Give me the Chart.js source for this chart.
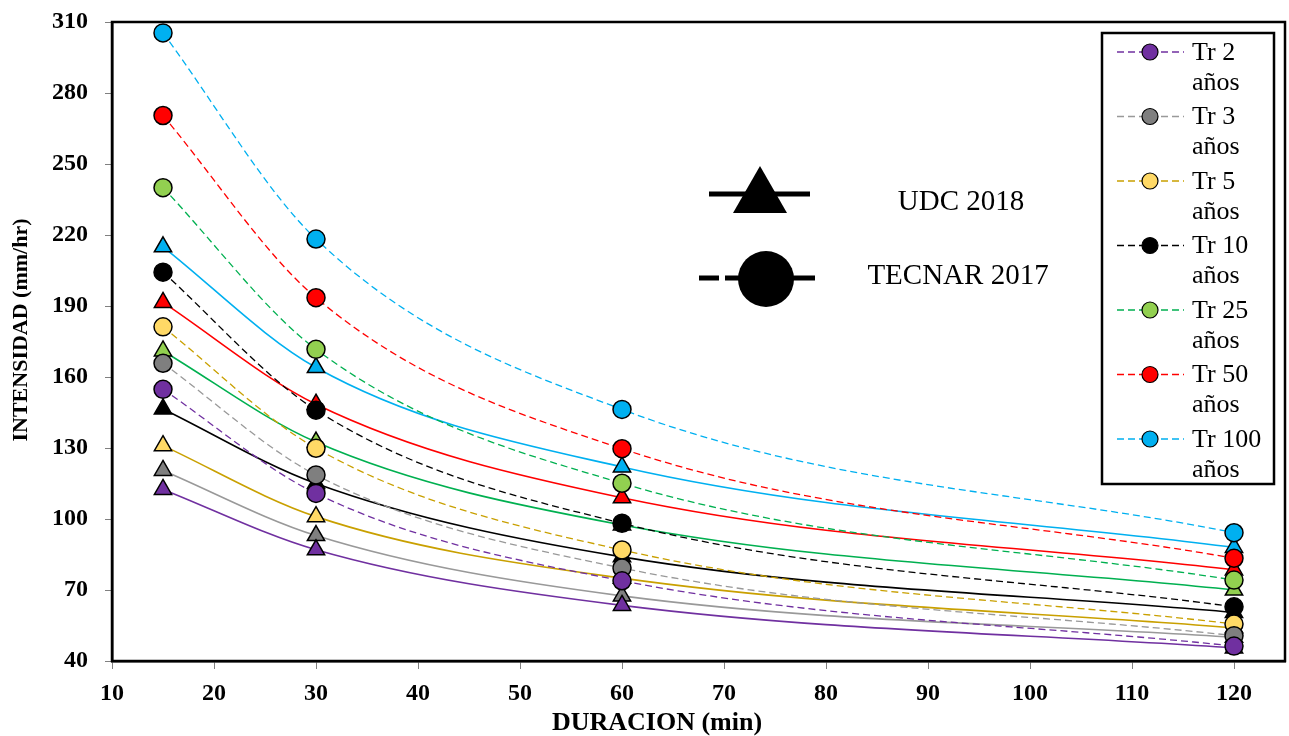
<!DOCTYPE html>
<html>
<head>
<meta charset="utf-8">
<script src="https://cdn.jsdelivr.net/npm/chart.js@4.4.1/dist/chart.umd.min.js"></script>
<style>
  html, body { margin: 0; padding: 0; background: #fff; }
  #wrap { width: 1289px; height: 736px; }
</style>
</head>
<body>
<div id="wrap"><canvas id="idf" width="1289" height="736"></canvas></div>
<script>
// duraciones (min)
const durations = [15, 30, 60, 120];
const xTicks = [10, 20, 30, 40, 50, 60, 70, 80, 90, 100, 110, 120];
const periods = ["Tr 2", "Tr 3", "Tr 5", "Tr 10", "Tr 25", "Tr 50", "Tr 100"];

// UDC 2018 (triangulos, linea continua)
const udcTr2   = [112.5, 87, 63.5, 45.5];
const udcTr3   = [120.5, 93, 67.5, 50];
const udcTr5   = [131, 101, 75, 54];
const udcTr10  = [146.5, 115, 84, 60.5];
const udcTr25  = [171, 132.5, 97.5, 70];
const udcTr50  = [191.5, 148.5, 109, 78.5];
const udcTr100 = [215, 164, 122, 88];

// TECNAR 2017 (circulos, linea punteada)
const tecTr2   = [154.8, 110.8, 73.9, 46.3];
const tecTr3   = [165.8, 118.6, 79.3, 50.7];
const tecTr5   = [181.2, 129.9, 86.9, 55.6];
const tecTr10  = [204.3, 146, 98.2, 62.9];
const tecTr25  = [240, 171.7, 115.1, 74.2];
const tecTr50  = [270.5, 193.5, 129.7, 83.4];
const tecTr100 = [305.4, 218.3, 146.3, 94.2];

const udcSeries = [udcTr2, udcTr3, udcTr5, udcTr10, udcTr25, udcTr50, udcTr100];
const tecSeries = [tecTr2, tecTr3, tecTr5, tecTr10, tecTr25, tecTr50, tecTr100];

const lineColors   = ["#7030A0", "#999999", "#C9A000", "#000000", "#00B050", "#FF0000", "#00B0F0"];
const markerColors = ["#7030A0", "#7F7F7F", "#FFD966", "#000000", "#92D050", "#FF0000", "#00B0F0"];

const FONT = "'Liberation Serif', 'Times New Roman', serif";

function toPoints(vals) {
    return durations.map((d, i) => ({ x: d, y: vals[i] }));
}

const datasets = [];
tecSeries.forEach((vals, i) => {
    datasets.push({
        label: periods[i] + " años (TECNAR)",
        data: toPoints(vals),
        borderColor: lineColors[i],
        borderWidth: 1.3,
        borderDash: [7, 4],
        backgroundColor: markerColors[i],
        pointStyle: 'circle',
        pointRadius: 9,
        pointBorderColor: '#000',
        pointBorderWidth: 1.5,
        cubicInterpolationMode: 'monotone',
        order: 0
    });
});
udcSeries.forEach((vals, i) => {
    datasets.push({
        label: periods[i] + " años (UDC)",
        data: toPoints(vals),
        borderColor: lineColors[i],
        borderWidth: 1.6,
        backgroundColor: markerColors[i],
        pointStyle: 'triangle',
        pointRadius: 10,
        pointBorderColor: '#000',
        pointBorderWidth: 1.5,
        cubicInterpolationMode: 'monotone',
        order: 1
    });
});

// marco, titulos de ejes, leyenda y nota de fuentes
const extras = {
    id: 'extras',
    afterDraw(chart) {
        const ctx = chart.ctx;
        const a = chart.chartArea;
        ctx.save();
        ctx.strokeStyle = '#000';
        ctx.lineWidth = 2.5;
        ctx.strokeRect(a.left, a.top, a.right - a.left, a.bottom - a.top);

        // titulos de ejes
        ctx.fillStyle = '#000';
        ctx.textAlign = 'center';
        ctx.textBaseline = 'alphabetic';
        ctx.font = "bold 26px " + FONT;
        ctx.fillText("DURACION (min)", 657, 730);
        ctx.save();
        ctx.translate(27, 330);
        ctx.rotate(-Math.PI / 2);
        ctx.font = "bold 22px " + FONT;
        ctx.fillText("INTENSIDAD (mm/hr)", 0, 0);
        ctx.restore();

        // leyenda
        ctx.lineWidth = 2.5;
        ctx.strokeRect(1102, 33, 172, 451);
        ctx.font = "26px " + FONT;
        ctx.textBaseline = 'middle';
        ctx.textAlign = 'left';
        periods.forEach((p, i) => {
            const y = 52 + i * 64.5;
            ctx.strokeStyle = lineColors[i];
            ctx.lineWidth = 1.3;
            ctx.setLineDash([7, 4]);
            ctx.beginPath();
            ctx.moveTo(1117, y);
            ctx.lineTo(1184, y);
            ctx.stroke();
            ctx.setLineDash([]);
            ctx.beginPath();
            ctx.arc(1150, y, 8, 0, Math.PI * 2);
            ctx.fillStyle = markerColors[i];
            ctx.fill();
            ctx.strokeStyle = '#000';
            ctx.lineWidth = 1.2;
            ctx.stroke();
            ctx.fillStyle = '#000';
            ctx.fillText(p, 1192, y + 1);
            ctx.fillText("años", 1192, y + 31);
        });

        // UDC 2018
        ctx.strokeStyle = '#000';
        ctx.fillStyle = '#000';
        ctx.lineWidth = 5;
        ctx.beginPath();
        ctx.moveTo(709, 194);
        ctx.lineTo(810, 194);
        ctx.stroke();
        ctx.beginPath();
        ctx.moveTo(760, 166);
        ctx.lineTo(787, 213);
        ctx.lineTo(733, 213);
        ctx.closePath();
        ctx.fill();

        // TECNAR 2017
        ctx.setLineDash([20, 6]);
        ctx.beginPath();
        ctx.moveTo(699, 278);
        ctx.lineTo(745, 278);
        ctx.stroke();
        ctx.setLineDash([]);
        ctx.beginPath();
        ctx.moveTo(788, 278);
        ctx.lineTo(815, 278);
        ctx.stroke();
        ctx.beginPath();
        ctx.arc(766, 279, 28, 0, Math.PI * 2);
        ctx.fill();

        ctx.font = "29px " + FONT;
        ctx.textAlign = 'center';
        ctx.fillText("UDC 2018", 961, 202);
        ctx.fillText("TECNAR 2017", 958, 276);
        ctx.restore();
    }
};

const tickFont = { family: FONT, size: 24, weight: 'bold' };

new Chart(document.getElementById('idf'), {
    type: 'line',
    data: { datasets: datasets },
    options: {
        responsive: false,
        animation: false,
        layout: { autoPadding: false, padding: { top: 22, right: 4, left: 0, bottom: 0 } },
        plugins: { legend: { display: false }, tooltip: { enabled: false } },
        scales: {
            x: {
                type: 'linear',
                min: 10,
                max: 125,
                afterBuildTicks: s => { s.ticks = xTicks.map(v => ({ value: v })); },
                afterFit: s => { s.height = 75; s.paddingLeft = 0; s.paddingRight = 0; },
                ticks: { font: tickFont, color: '#000', padding: 10, maxRotation: 0 },
                grid: { drawOnChartArea: false, tickLength: 8, color: '#808080' },
                border: { color: '#000', width: 2.5 }
            },
            y: {
                min: 40,
                max: 310,
                afterFit: s => { s.width = 112; s.paddingTop = 0; s.paddingBottom = 0; },
                ticks: { stepSize: 30, font: tickFont, color: '#000', padding: 17 },
                grid: { drawOnChartArea: false, tickLength: 7, color: '#808080' },
                border: { color: '#000', width: 2.5 }
            }
        }
    },
    plugins: [extras]
});
</script>
</body>
</html>
